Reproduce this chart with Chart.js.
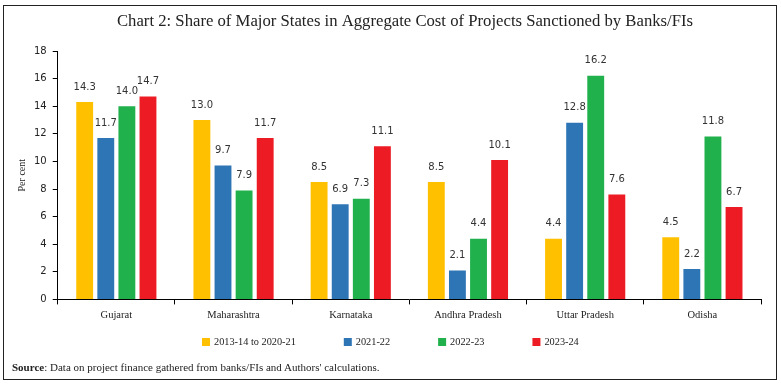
<!DOCTYPE html>
<html>
<head>
<meta charset="utf-8">
<script src="https://cdn.jsdelivr.net/npm/chart.js@4.4.2/dist/chart.umd.min.js"></script>
<style>
  body { margin: 0; background: #fff; }
  #wrap { position: relative; width: 781px; height: 387px; }
  #frame { position: absolute; left: 3px; top: 5px; width: 772px; height: 373px; border: 1.5px solid #222; }
  #chart { position: absolute; left: 0; top: 0; }
  #source { position: absolute; left: 12px; top: 361px; font: 11px "Liberation Serif", serif; color: #222; white-space: nowrap; }
</style>
</head>
<body>
<div id="wrap">
  <div id="frame"></div>
  <canvas id="chart" width="781" height="387"></canvas>
  <div id="source"><b>Source</b>: Data on project finance gathered from banks/FIs and Authors' calculations.</div>
</div>
<script>
const states = ['Gujarat', 'Maharashtra', 'Karnataka', 'Andhra Pradesh', 'Uttar Pradesh', 'Odisha'];
const period2014to2021 = [14.3, 13.0, 8.5, 8.5, 4.4, 4.5];
const period2021to22 = [11.7, 9.7, 6.9, 2.1, 12.8, 2.2];
const period2022to23 = [14.0, 7.9, 7.3, 4.4, 16.2, 11.8];
const period2023to24 = [14.7, 11.7, 11.1, 10.1, 7.6, 6.7];
const seriesLabels = ['2013-14 to 2020-21', '2021-22', '2022-23', '2023-24'];
const seriesColors = ['#ffc000', '#2e75b6', '#21b14c', '#ed1c24'];
const chartTitle = 'Chart 2: Share of Major States in Aggregate Cost of Projects Sanctioned by Banks/FIs';

// title, drawn by hand so it can sit a little right of centre like the original
const headline = {
  id: 'headline',
  afterDraw(chart) {
    const ctx = chart.ctx;
    ctx.save();
    ctx.font = '16.7px "Liberation Serif", serif';
    ctx.fillStyle = '#222';
    ctx.textAlign = 'center';
    ctx.textBaseline = 'middle';
    ctx.fillText(chartTitle, 405, 22);
    ctx.restore();
  }
};

// numbers above the bars
const valueLabels = {
  id: 'valueLabels',
  afterDatasetsDraw(chart) {
    const ctx = chart.ctx;
    ctx.save();
    ctx.font = '10px "DejaVu Sans", sans-serif';
    ctx.fillStyle = '#333';
    ctx.textAlign = 'center';
    ctx.textBaseline = 'middle';
    chart.data.datasets.forEach((ds, i) => {
      chart.getDatasetMeta(i).data.forEach((bar, j) => {
        ctx.fillText(ds.data[j].toFixed(1), bar.x, bar.y - 15);
      });
    });
    ctx.restore();
  }
};

// compact legend row under the axis
const bottomLegend = {
  id: 'bottomLegend',
  afterDraw(chart) {
    const ctx = chart.ctx;
    const box = 8, gap = 4, spacing = 48, y = 342;
    ctx.save();
    ctx.font = '10.3px "Liberation Serif", serif';
    const items = chart.data.datasets.map(ds => ({
      text: ds.label, color: ds.backgroundColor, w: box + gap + ctx.measureText(ds.label).width
    }));
    let x = 202;
    ctx.textBaseline = 'middle';
    ctx.textAlign = 'left';
    items.forEach(it => {
      ctx.fillStyle = it.color;
      ctx.fillRect(x, y - box / 2, box, box);
      ctx.fillStyle = '#222';
      ctx.fillText(it.text, x + box + gap, y + 0.5);
      x += it.w + spacing;
    });
    ctx.restore();
  }
};

new Chart(document.getElementById('chart'), {
  type: 'bar',
  data: {
    labels: states,
    datasets: [period2014to2021, period2021to22, period2022to23, period2023to24].map((values, i) => ({
      label: seriesLabels[i],
      data: values,
      backgroundColor: seriesColors[i],
      borderWidth: 0
    }))
  },
  options: {
    responsive: false,
    animation: false,
    categoryPercentage: 0.72,
    barPercentage: 0.8,
    layout: {
      padding: { left: 12, right: 20, top: 51, bottom: 60 }
    },
    plugins: {
      title: { display: false },
      legend: { display: false },
      tooltip: { enabled: false }
    },
    scales: {
      x: {
        grid: { drawOnChartArea: false, drawTicks: true, tickLength: 5, color: '#000' },
        border: { color: '#000', width: 1 },
        ticks: { color: '#222', font: { family: '"Liberation Serif", serif', size: 10.5 }, padding: 5 }
      },
      y: {
        min: 0,
        max: 18,
        ticks: { stepSize: 2, color: '#222', font: { family: '"DejaVu Sans", sans-serif', size: 10 }, padding: 6 },
        grid: { drawOnChartArea: false, drawTicks: true, tickLength: 5, color: '#000' },
        border: { color: '#000', width: 1 },
        title: { display: true, text: 'Per cent', color: '#222', font: { family: '"Liberation Serif", serif', size: 10 }, padding: { top: 4, bottom: 0 } }
      }
    }
  },
  plugins: [valueLabels, bottomLegend, headline]
});
</script>
</body>
</html>
